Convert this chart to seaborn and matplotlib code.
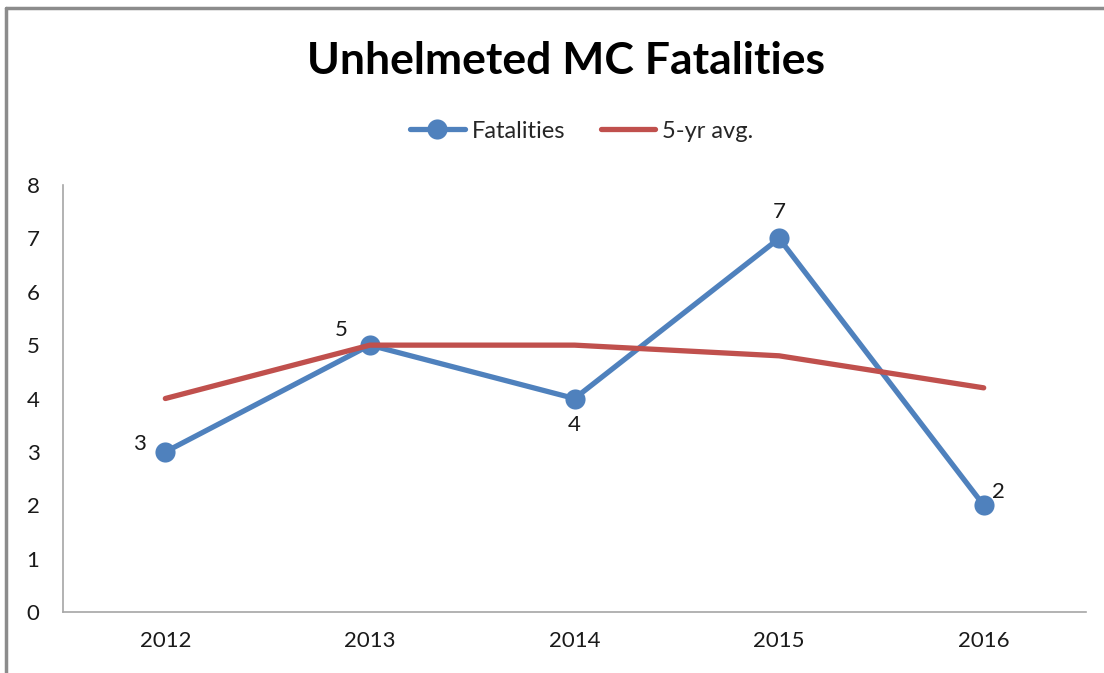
import matplotlib
matplotlib.use("Agg")
import matplotlib.pyplot as plt
from matplotlib.lines import Line2D
import pandas as pd
import seaborn as sns

years = ["2012", "2013", "2014", "2015", "2016"]
fatalities = [3, 5, 4, 7, 2]
five_yr_avg = [4.0, 5.0, 5.0, 4.8, 4.2]

BLUE = "#4f81bd"
RED = "#c0504d"
GRAY = "#a6a6a6"

sns.set_style("white")
plt.rcParams["font.family"] = ["Lato", "DejaVu Sans"]

df = pd.DataFrame({"year": years, "Fatalities": fatalities, "5-yr avg.": five_yr_avg})

fig = plt.figure(figsize=(11.04, 6.73), dpi=100)
ax = fig.add_axes([0.0571, 0.0906, 0.9266, 0.6345])

sns.lineplot(data=df, x="year", y="Fatalities", ax=ax, color=BLUE, lw=3.8,
             marker="o", markersize=14.5, markeredgewidth=0, label="Fatalities",
             sort=False)
sns.lineplot(data=df, x="year", y="5-yr avg.", ax=ax, color=RED, lw=3.8,
             label="5-yr avg.", sort=False)

# data labels
offsets = [(-14, 6, "right", "center"), (-16, 4, "right", "bottom"),
           (0, -12, "center", "top"), (0, 12, "center", "bottom"),
           (6, 2, "left", "bottom")]
for i, (v, (dx, dy, ha, va)) in enumerate(zip(fatalities, offsets)):
    ax.annotate(str(v), (i, v), xytext=(dx, dy), textcoords="offset points",
                ha=ha, va=va, fontsize=16, color="#1a1a1a")

ax.set_xlim(-0.5, 4.5)
ax.set_ylim(0, 8)
ax.set_yticks(range(0, 9))
ax.set_xticks([i - 0.5 for i in range(6)])
ax.set_xticklabels([])
ax.set_xticks(range(5), minor=True)
ax.set_xticklabels(years, minor=True)
ax.tick_params(axis="x", which="minor", length=0, pad=14, labelsize=16,
               labelcolor="#1a1a1a")
ax.tick_params(axis="x", which="major", length=7, color=GRAY, width=1.2)
ax.tick_params(axis="y", length=7, color=GRAY, width=1.2, labelsize=16, pad=10,
               labelcolor="#1a1a1a")
ax.set_xlabel("")
ax.set_ylabel("")
for side in ["top", "right"]:
    ax.spines[side].set_visible(False)
for side in ["left", "bottom"]:
    ax.spines[side].set_color(GRAY)
    ax.spines[side].set_linewidth(1.2)

fig.text(0.513, 0.91, "Unhelmeted MC Fatalities", ha="center", va="center",
         fontsize=32, fontweight="bold", color="black")
ax.legend(loc="center", bbox_to_anchor=(0.507, 1.126), ncol=2, frameon=False,
          fontsize=17, handlelength=2.3, columnspacing=1.5, handletextpad=0.3)

# chart border (top and left edges visible)
fig.add_artist(Line2D([0.0054, 1.01], [0.988, 0.988], transform=fig.transFigure,
                      color="#8c8c8c", lw=2.5))
fig.add_artist(Line2D([0.0054, 0.0054], [-0.01, 0.988], transform=fig.transFigure,
                      color="#8c8c8c", lw=2.5))

fig.savefig("out.png", dpi=100)
